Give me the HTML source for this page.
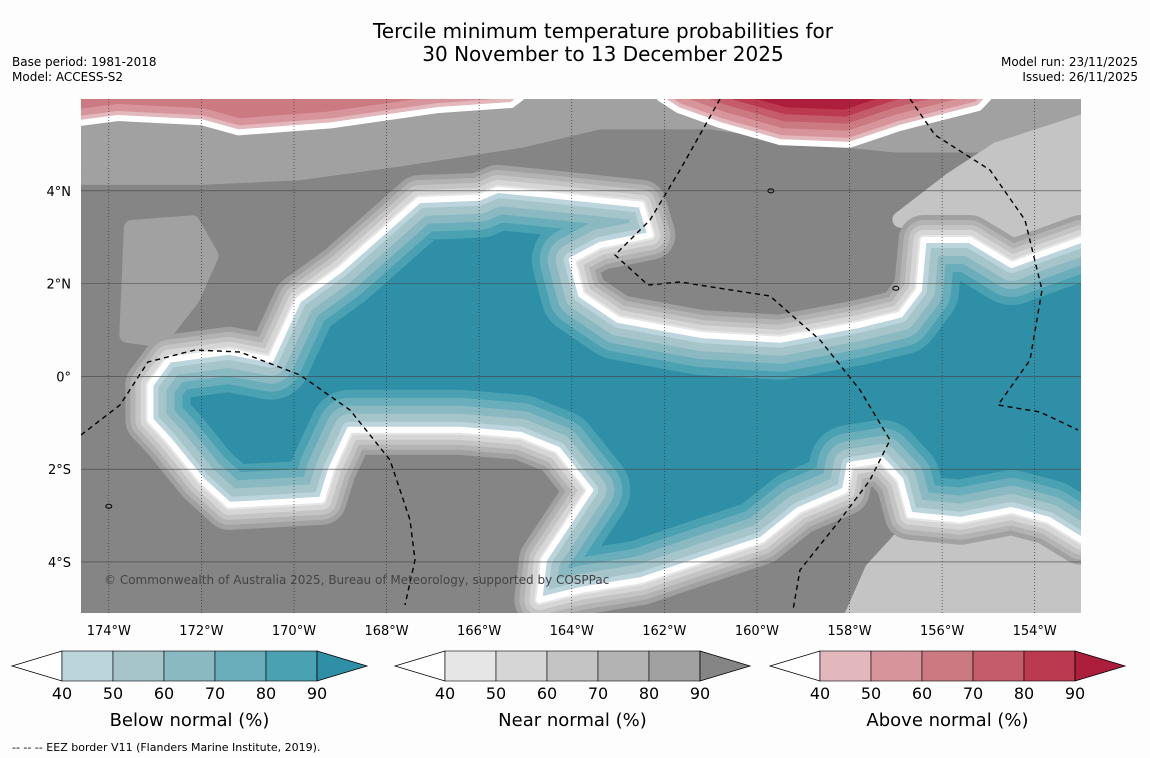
<!DOCTYPE html>
<html><head><meta charset="utf-8"><style>
body{margin:0;background:#fdfdfd;font-family:"DejaVu Sans","Liberation Sans",sans-serif;}
#wrap{position:relative;width:1150px;height:758px;overflow:hidden;background:#fdfdfd}
svg text{font-family:"DejaVu Sans","Liberation Sans",sans-serif;}
</style></head><body>
<div id="wrap">
<svg id="svg" width="1150" height="758" xmlns="http://www.w3.org/2000/svg">
<text x="603" y="38" text-anchor="middle" font-size="20">Tercile minimum temperature probabilities for</text>
<text x="603" y="61" text-anchor="middle" font-size="20">30 November to 13 December 2025</text>
<text x="12" y="66" font-size="12">Base period: 1981-2018</text>
<text x="12" y="81" font-size="12">Model: ACCESS-S2</text>
<text x="1138" y="66" font-size="12" text-anchor="end">Model run: 23/11/2025</text>
<text x="1138" y="81" font-size="12" text-anchor="end">Issued: 26/11/2025</text>
<defs><clipPath id="mapclip"><rect x="81" y="99" width="1000" height="514"/></clipPath></defs>
<g id="map" clip-path="url(#mapclip)"></g>
<g id="axes"></g>
<g id="bars"></g>
<text x="12" y="751" font-size="11">--  --  -- EEZ border V11 (Flanders Marine Institute, 2019).</text>
</svg>
</div>
<script>
// Axis definitions
const lonTicks=[-174,-172,-170,-168,-166,-164,-162,-160,-158,-156,-154];
const latTicks=[4,2,0,-2,-4];
const lonTickLabels=["174°W","172°W","170°W","168°W","166°W","164°W","162°W","160°W","158°W","156°W","154°W"];
const latTickLabels=["4°N","2°N","0°","2°S","4°S"];
// Contour polygons [lon,lat] (40% probability contours)
const belowOuter=[[-173.1,-0.94],[-173.1,-0.18],[-172.7,0.36],[-171.4,0.53],[-170.5,0.36],[-169.9,1.65],[-169.0,2.3],[-167.3,3.8],[-166.0,3.85],[-165.6,4.02],[-164.5,3.91],[-162.5,3.7],[-162.3,3.05],[-163.4,2.83],[-164.0,2.51],[-163.8,1.76],[-163.0,1.22],[-161.2,0.89],[-159.5,0.79],[-157.8,1.11],[-156.9,1.33],[-156.5,1.86],[-156.4,2.94],[-155.4,2.94],[-154.5,2.4],[-153.9,2.62],[-153.0,2.94],[-152.0,2.94],[-152.0,-3.52],[-153.0,-3.52],[-153.7,-3.09],[-154.5,-2.88],[-155.6,-3.09],[-156.7,-2.98],[-156.9,-2.23],[-157.3,-1.8],[-158.0,-1.91],[-158.1,-2.45],[-159.1,-2.88],[-159.9,-3.52],[-161.2,-3.95],[-162.5,-4.39],[-163.8,-4.6],[-164.7,-4.82],[-164.6,-3.95],[-163.6,-2.45],[-164.3,-1.58],[-165.1,-1.26],[-166.4,-1.15],[-168.8,-1.15],[-169.2,-2.01],[-169.4,-2.66],[-171.4,-2.77],[-172.0,-2.23],[-172.7,-1.37]];
const aboveWestOuter=[[-175.5,7.0],[-165.1,7.0],[-165.1,6.0],[-165.3,5.85],[-166.9,5.74],[-169.2,5.41],[-171.2,5.26],[-172.0,5.48],[-173.8,5.57],[-175.5,5.35]];
const aboveEastOuter=[[-162.1,7.0],[-155.0,7.0],[-155.0,6.0],[-155.2,5.79],[-156.9,5.36],[-158.0,4.99],[-159.5,5.05],[-160.8,5.42],[-161.7,5.74],[-162.1,6.0]];
const nearTop=[[-174.8,6.2],[-152.8,6.2],[-152.8,5.2],[-155.0,5.0],[-157.0,5.0],[-159.0,5.2],[-161.0,5.5],[-163.4,5.5],[-165.1,5.1],[-167.7,4.7],[-169.9,4.4],[-172.0,4.3],[-174.8,4.3]];
const nearWest=[[-173.5,3.2],[-172.2,3.3],[-171.8,2.6],[-172.2,1.7],[-172.9,0.8],[-173.6,0.9]];
const nearEast=[[-154.8,4.88],[-152.8,5.53],[-152.8,1.65],[-153.9,2.51],[-155.6,3.16],[-156.9,3.38],[-155.8,4.23]];
const nearSE=[[-156.9,-3.52],[-152.8,-3.52],[-152.8,-5.3],[-158.0,-5.3],[-157.5,-4.17]];
// Colour scales
const levels=[40,50,60,70,80,90];
const blueCols=["#bcd4dc","#a5c5cb","#8ab9c1","#6aaebc","#4aa1b1","#2e8fa6"];
const grayCols=["#e6e6e6","#d6d6d6","#c4c4c4","#b3b3b3","#a1a1a1","#858585"];
const redCols=["#e2b8bd","#d8949b","#cc7a82","#c45c6b","#bb3a50","#ad1e3c"];
const redWestCols=["#e2b8bd","#d8949b","#cc7a82","#cc7a82","#cc7a82","#cc7a82"];
const barTitles=["Below normal (%)","Near normal (%)","Above normal (%)"];

const X0=81,X1=1081,Y0=99,Y1=613;
const lonMin=-174.6,lonMax=-153.0,latMin=-5.1,latMax=5.98;
const xS=l=>X0+(l-lonMin)/(lonMax-lonMin)*(X1-X0);
const yS=l=>Y0+(latMax-l)/(latMax-latMin)*(Y1-Y0);
const NS="http://www.w3.org/2000/svg";
const map=document.getElementById('map'),axes=document.getElementById('axes'),bars=document.getElementById('bars');
function mk(t,at,p){const e=document.createElementNS(NS,t);for(const k in at)e.setAttribute(k,at[k]);p.appendChild(e);return e;}
const pts=a=>a.map(p=>xS(p[0]).toFixed(1)+','+yS(p[1]).toFixed(1)).join(' ');

let bg=mk('rect',{x:X0,y:Y0,width:X1-X0,height:Y1-Y0,fill:grayCols[5]},map);


[[nearTop,grayCols[4]],[nearWest,grayCols[4]],[nearEast,grayCols[2]],[nearSE,grayCols[2]]].forEach((d,i)=>{
 const p=mk('polygon',{points:pts(d[0]),fill:d[1],stroke:d[1],'stroke-width':16,'stroke-linejoin':'round'},map);
 
 
});
function tercileBlob(outer,cols,name,halo,step){
 const id='c'+name;
 const cp=mk('clipPath',{id:id},map);mk('polygon',{points:pts(outer)},cp);
 if(halo){[50,40,30,20,10].forEach((w,i)=>{
  const h=mk('polygon',{points:pts(outer),fill:'none',stroke:grayCols[4-i],'stroke-width':w,'stroke-linejoin':'round'},map);
  
  
 });}
 const g=mk('g',{'clip-path':'url(#'+id+')'},map);
 
 
 const c=mk('polygon',{points:pts(outer),fill:cols[5]},g);
 
 
 for(let i=4;i>=0;i--){
  mk('polygon',{points:pts(outer),fill:'none',stroke:cols[i],'stroke-width':step*2*(i+1),'stroke-linejoin':'round'},g);
 }
 const w=mk('polygon',{points:pts(outer),fill:'none',stroke:'#fff','stroke-width':6,'stroke-linejoin':'round'},map);
 
 
}
tercileBlob(belowOuter,blueCols,'below-normal',true,8);
tercileBlob(aboveWestOuter,redWestCols,'above-normal-west',false,7);
tercileBlob(aboveEastOuter,redCols,'above-normal-east',false,7);

// EEZ borders (decorative)
["M81,435 L120,405 L148,362 L195,350 L240,352 L300,375 L350,410 L390,460 L410,520 L415,560 L405,605",
 "M720,99 L680,170 L650,220 L615,255 L648,285 L680,282 L770,296 L820,340 L860,390 L890,440 L870,480 L840,520 L800,570 L793,610",
 "M910,99 L935,135 L990,170 L1025,220 L1042,290 L1030,360 L998,405 L1040,412 L1078,430"].forEach(d=>{
 const e=mk('path',{d:d,fill:'none',stroke:'#000','stroke-width':1.4,'stroke-dasharray':'5,4'},map);
 
 
});
// Islands
[[-159.7,4.0],[-157.0,1.9],[-174.0,-2.8]].forEach(p=>{
 const e=mk('ellipse',{cx:xS(p[0]),cy:yS(p[1]),rx:3,ry:2,fill:'none',stroke:'#000','stroke-width':1},map);
 
 
});
// grid
lonTicks.forEach((l,i)=>{
 const x=xS(l);
 const g=mk('line',{x1:x,x2:x,y1:Y0,y2:Y1,stroke:'#333','stroke-width':0.7,'stroke-dasharray':'1,2'},map);
 
 
 const t=mk('text',{x:x,y:635,'text-anchor':'middle','font-size':13},axes);t.textContent=lonTickLabels[i];
 
 
});
latTicks.forEach((l,i)=>{
 const y=yS(l);
 const g=mk('line',{x1:X0,x2:X1,y1:y,y2:y,stroke:'#444','stroke-width':0.6},map);
 
 
 const t=mk('text',{x:71,y:y+5,'text-anchor':'end','font-size':13},axes);t.textContent=latTickLabels[i];
 
 
});
const cr=mk('text',{x:104,y:584,'font-size':12,fill:'#444'},map);
cr.textContent='© Commonwealth of Australia 2025, Bureau of Meteorology, supported by COSPPac';



// colorbars
[[12,blueCols],[395,grayCols],[770,redCols]].forEach((b,k)=>{
 const x0=b[0],cols=b[1],bx=x0+50,seg=51,y=651,h=30;
 const g=mk('g',{},bars);
 
 
 mk('polygon',{points:`${x0},${y+h/2} ${bx},${y} ${bx},${y+h}`,fill:'#fff',stroke:'#000','stroke-width':0.8},g);
 for(let i=0;i<5;i++)mk('rect',{x:bx+i*seg,y:y,width:seg,height:h,fill:cols[i],stroke:'#000','stroke-width':0.6},g);
 const ex=bx+5*seg;
 mk('polygon',{points:`${ex},${y} ${ex+50},${y+h/2} ${ex},${y+h}`,fill:cols[5],stroke:'#000','stroke-width':0.8},g);
 levels.forEach((v,i)=>{const t=mk('text',{x:bx+i*seg,y:699,'text-anchor':'middle','font-size':16},g);t.textContent=v;
  
  });
 const t=mk('text',{x:bx+2.5*seg,y:726,'text-anchor':'middle','font-size':18},g);t.textContent=barTitles[k];
 
 
});
</script>
</body></html>
